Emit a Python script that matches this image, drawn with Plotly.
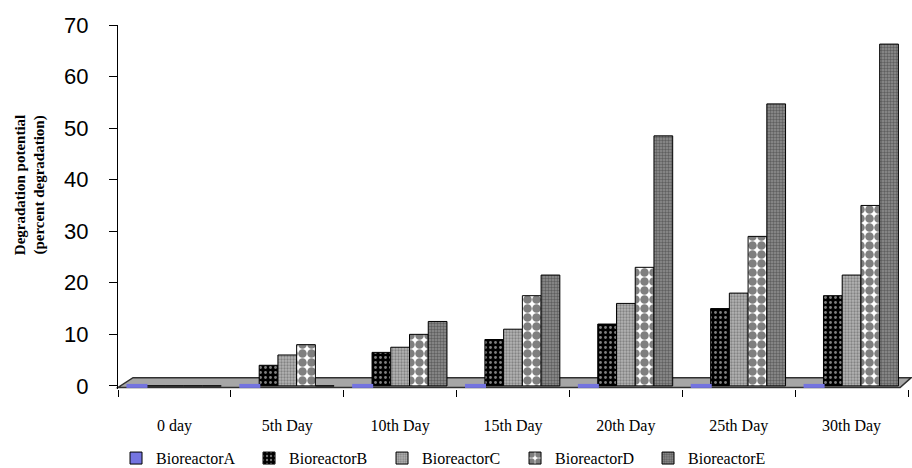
import plotly.graph_objects as go

days = ["0 day", "5th Day", "10th Day", "15th Day", "20th Day", "25th Day", "30th Day"]
bio_a = [0, 0, 0, 0, 0, 0, 0]
bio_b = [0, 4, 6.5, 9, 12, 15, 17.5]
bio_c = [0, 6, 7.5, 11, 16, 18, 21.5]
bio_d = [0, 8, 10, 17.5, 23, 29, 35]
bio_e = [0, 0, 12.5, 21.5, 48.5, 54.7, 66.3]
y_ticks = [0, 10, 20, 30, 40, 50, 60, 70]

series = [
    ("BioreactorA", bio_a, dict(color="#7474e0")),
    ("BioreactorB", bio_b, dict(color="#000000", pattern=dict(shape=".", bgcolor="#000000", fgcolor="#ffffff", size=5, solidity=0.25))),
    ("BioreactorC", bio_c, dict(color="#9a9a9a", pattern=dict(shape=".", bgcolor="#b4b4b4", fgcolor="#505050", size=3, solidity=0.45))),
    ("BioreactorD", bio_d, dict(color="#ffffff", pattern=dict(shape=".", bgcolor="#ffffff", fgcolor="#000000", size=9, solidity=0.7))),
    ("BioreactorE", bio_e, dict(color="#808080", pattern=dict(shape=".", bgcolor="#909090", fgcolor="#2e2e2e", size=3, solidity=0.5))),
]

fig = go.Figure()
for name, vals, mk in series:
    mk = dict(mk)
    mk["line"] = dict(color="#000000", width=1)
    fig.add_trace(go.Bar(x=days, y=vals, name=name, marker=mk, offsetgroup=name))

# flat blue marks for the zero-valued BioreactorA bars lying on the floor
fig.add_trace(go.Scatter(
    x=days, y=bio_a, mode="markers", offsetgroup="BioreactorA", showlegend=False,
    marker=dict(symbol="line-ew", size=15, color="#7474e0", line=dict(color="#7474e0", width=4)),
    hoverinfo="skip", cliponaxis=False,
))

# gray floor of the 3-D look
fig.add_shape(type="path", xref="paper", yref="y",
              path="M 0,-0.3 L 0.99,-0.3 L 1.004,1.6 L 0.019,1.6 Z",
              fillcolor="#a6a6a6", line=dict(color="#303030", width=1.5), layer="below")

fig.update_layout(
    width=912, height=468,
    margin=dict(l=118, r=4, t=25, b=79, autoexpand=False),
    paper_bgcolor="white", plot_bgcolor="white",
    barmode="group", bargap=0.17, bargroupgap=0,
    scattermode="group", scattergap=0.17,
    showlegend=True,
    legend=dict(orientation="h", x=-0.0025, xanchor="left", y=-0.19, yanchor="middle",
                font=dict(family="Liberation Serif", size=16, color="black"),
                traceorder="normal", entrywidth=88, entrywidthmode="pixels",
                itemclick=False, bgcolor="rgba(0,0,0,0)"),
    font=dict(family="Liberation Serif", color="black"),
)
fig.update_xaxes(
    showgrid=False, showline=False, zeroline=False,
    ticks="outside", tickson="boundaries", ticklen=7, tickcolor="black", tickwidth=1,
    tickfont=dict(family="Liberation Serif", size=16, color="black"),
    ticklabelstandoff=25, range=[-0.5, 6.5],
)
fig.update_yaxes(
    range=[-0.6, 70], tickvals=y_ticks, showgrid=False, zeroline=False,
    showline=True, linecolor="black", linewidth=1,
    ticks="outside", ticklen=8, tickcolor="black",
    tickfont=dict(family="Liberation Sans", size=22, color="black"),
    ticklabelstandoff=16,
)
fig.add_annotation(
    text="<b>Degradation potential<br>(percent degradation)</b>",
    xref="paper", yref="paper", x=0, y=0.56, xshift=-88,
    xanchor="center", yanchor="middle", textangle=-90, showarrow=False,
    font=dict(family="Liberation Serif", size=15, color="black"),
)

fig.write_html("out.html")
